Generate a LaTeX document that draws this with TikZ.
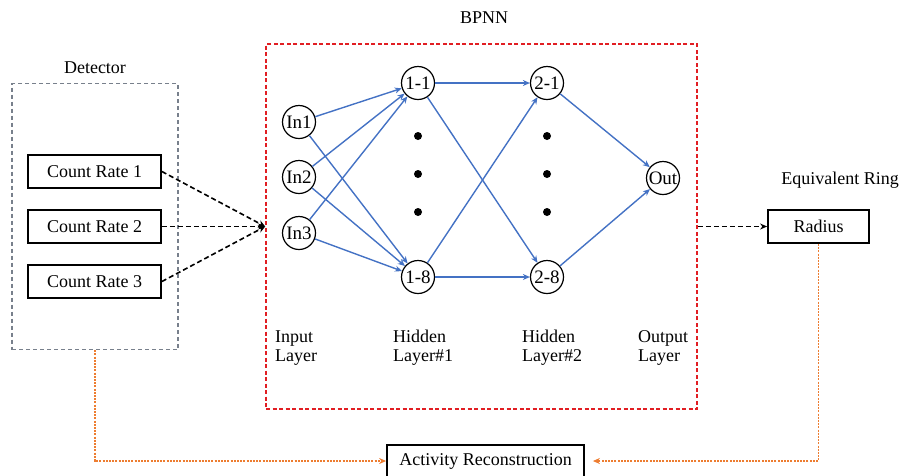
\documentclass[tikz,border=0pt]{standalone}
\usepackage{fontspec}
\setmainfont{Liberation Serif}
\usetikzlibrary{arrows.meta}
\definecolor{nnblue}{RGB}{68,114,196}
\definecolor{bpred}{RGB}{225,30,35}
\definecolor{detgray}{RGB}{120,128,140}
\definecolor{orng}{RGB}{237,125,49}
\tikzset{
  txt/.style={font=\fontsize{18}{19}\selectfont, inner sep=0pt},
  cbox/.style={draw=black, line width=1.8pt, minimum width=133pt, minimum height=33pt, inner sep=0pt, font=\fontsize{18}{19}\selectfont},
  neuron/.style={circle, draw=black, line width=1.2pt, minimum size=33pt, inner sep=0pt, font=\fontsize{19}{20}\selectfont},
  syn/.style={draw=nnblue, line width=1.4pt, -{Stealth[length=7pt,width=6pt]}},
  blkdash/.style={draw=black, line width=1.6pt, dash pattern=on 5pt off 3pt, -{Stealth[length=7pt,width=6pt]}},
  orgdot/.style={draw=orng, line width=1.2pt, dash pattern=on 2pt off 1.2pt, -{Stealth[length=7pt,width=6pt]}},
  lay/.style={font=\fontsize{18}{19}\selectfont, align=left, anchor=west, inner sep=0pt},
  dotn/.style={circle, fill=black, minimum size=8pt, inner sep=0pt}
}
\begin{document}
\begin{tikzpicture}[x=1pt,y=-1pt]
\useasboundingbox (0,0) rectangle (901,475);
% containers
\node[draw=bpred, line width=1.6pt, dash pattern=on 4pt off 2.5pt, minimum width=431pt, minimum height=365pt, inner sep=0pt] (bpnn) at (481.5,226.5) {};
\node[draw=detgray, line width=1.5pt, dash pattern=on 4pt off 3pt, minimum width=166pt, minimum height=266pt, inner sep=0pt] (det) at (95,216.5) {};
% titles
\node[txt] (tbp) at (484,18) {BPNN};
\node[txt] (tdet) at (95,68) {Detector};
\node[txt] (teq) at (840,180) {Equivalent Ring};
% count rate boxes
\node[cbox] (c1) at (94.5,171.5) {Count Rate 1};
\node[cbox] (c2) at (94.5,226.5) {Count Rate 2};
\node[cbox] (c3) at (94.5,281.5) {Count Rate 3};
% output boxes
\node[cbox, minimum width=101pt] (rad) at (818.5,226.5) {Radius};
\node[cbox, minimum width=197pt, minimum height=32pt] (act) at (485.5,461) {Activity Reconstruction};
% neurons
\node[neuron] (i1) at (299,122) {In1};
\node[neuron] (i2) at (299,177) {In2};
\node[neuron] (i3) at (299,233) {In3};
\node[neuron] (h11) at (418,83) {1-1};
\node[neuron] (h18) at (418,277) {1-8};
\node[neuron] (h21) at (547,83) {2-1};
\node[neuron] (h28) at (547,277) {2-8};
\node[neuron] (out) at (663,178) {Out};
% dots
\foreach \x/\n in {418/a,547/b}{
  \node[dotn] (d\n1) at (\x,136) {};
  \node[dotn] (d\n2) at (\x,174) {};
  \node[dotn] (d\n3) at (\x,212) {};
}
% synapses
\foreach \s in {i1,i2,i3}{
  \draw[syn] (\s) -- (h11);
  \draw[syn] (\s) -- (h18);
}
\foreach \s in {h11,h18}{
  \draw[syn] (\s) -- (h21);
  \draw[syn] (\s) -- (h28);
}
\draw[syn] (h21) -- (out);
\draw[syn] (h28) -- (out);
% layer labels
\node[lay] (l1) at (275,348) {Input\\Layer};
\node[lay] (l2) at (393,348) {Hidden\\Layer\#1};
\node[lay] (l3) at (522,348) {Hidden\\Layer\#2};
\node[lay] (l4) at (638,348) {Output\\Layer};
% dashed inputs
\draw[blkdash] (c1.east) -- (bpnn.west);
\draw[blkdash] (c2.east) -- (bpnn.west);
\draw[blkdash] (c3.east) -- (bpnn.west);
\draw[blkdash] (bpnn.east) -- (rad.west);
% orange
\draw[orgdot] (det.south) |- (act.west);
\draw[orgdot, shorten >=8pt] (rad.south) |- (act.east);
\end{tikzpicture}
\end{document}
